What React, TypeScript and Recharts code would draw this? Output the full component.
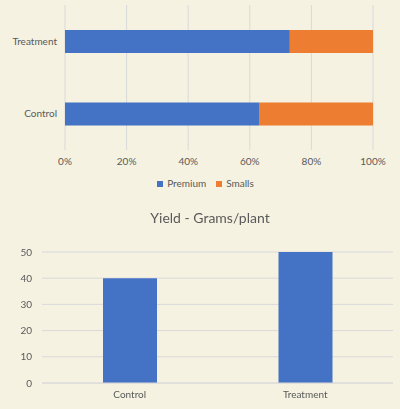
import React from 'react';
import { BarChart, Bar, XAxis, YAxis, CartesianGrid, Legend } from 'recharts';

// share of yield by grade (percent)
const groups = ['Treatment', 'Control'];
const premium = [73, 63];
const smalls = [27, 37];
const pctTicks = [0, 0.2, 0.4, 0.6, 0.8, 1];

// total yield, grams per plant
const yieldGroups = ['Control', 'Treatment'];
const yieldValues = [40, 50];
const yieldTicks = [0, 10, 20, 30, 40, 50];

const BLUE = '#4472C4';
const ORANGE = '#ED7D31';
const GRID = '#d9d9d9';
const TEXT = '#595959';
const BG = '#f5f2e2';
const FONT = 'Lato, "Liberation Sans", sans-serif';

const shareData = groups.map((g, i) => ({ name: g, Premium: premium[i], Smalls: smalls[i] }));
const yieldData = yieldGroups.map((g, i) => ({ name: g, value: yieldValues[i] }));

export default function App() {
    const tick = { fill: TEXT, fontSize: 10, fontFamily: FONT };

    return (
        <div style={{ position: 'fixed', top: 0, left: 0, width: 400, height: 409, background: BG, fontFamily: FONT }}>
            <BarChart
                width={400}
                height={200}
                data={shareData}
                layout="vertical"
                stackOffset="expand"
                barSize={23}
                margin={{ top: 5, right: 27, left: 0, bottom: 12 }}
            >
                <CartesianGrid horizontal={false} stroke={GRID} />
                <XAxis
                    type="number"
                    domain={[0, 1]}
                    ticks={pctTicks}
                    tickFormatter={(v: number) => `${Math.round(v * 100)}%`}
                    axisLine={false}
                    tickLine={false}
                    tick={tick}
                    height={22}
                />
                <YAxis
                    type="category"
                    dataKey="name"
                    width={65}
                    axisLine={false}
                    tickLine={false}
                    tick={tick}
                />
                <Legend
                    verticalAlign="bottom"
                    iconType="square"
                    iconSize={6}
                    wrapperStyle={{ fontSize: 10, color: TEXT, top: 175, bottom: 'auto', left: 24, width: 373, height: 16, lineHeight: '16px' }}
                    formatter={(value: string) => <span style={{ color: TEXT }}>{value}</span>}
                />
                <Bar dataKey="Premium" stackId="a" fill={BLUE} isAnimationActive={false} />
                <Bar dataKey="Smalls" stackId="a" fill={ORANGE} isAnimationActive={false} />
            </BarChart>

            <div style={{ position: 'absolute', top: 209, left: 0, width: 420, textAlign: 'center', fontSize: 14, color: TEXT }}>
                Yield - Grams/plant
            </div>
            <div style={{ position: 'absolute', top: 200, left: 0 }}>
                <BarChart
                    width={400}
                    height={209}
                    data={yieldData}
                    barSize={54}
                    margin={{ top: 52, right: 7, left: 1, bottom: 6 }}
                >
                    <CartesianGrid vertical={false} stroke={GRID} />
                    <XAxis
                        dataKey="name"
                        axisLine={{ stroke: GRID }}
                        tickLine={false}
                        tick={tick}
                        height={20}
                    />
                    <YAxis
                        domain={[0, 50]}
                        ticks={yieldTicks}
                        width={41}
                        axisLine={false}
                        tickLine={false}
                        tickMargin={4}
                        tick={tick}
                    />
                    <Bar dataKey="value" fill={BLUE} isAnimationActive={false} />
                </BarChart>
            </div>
        </div>
    );
}
